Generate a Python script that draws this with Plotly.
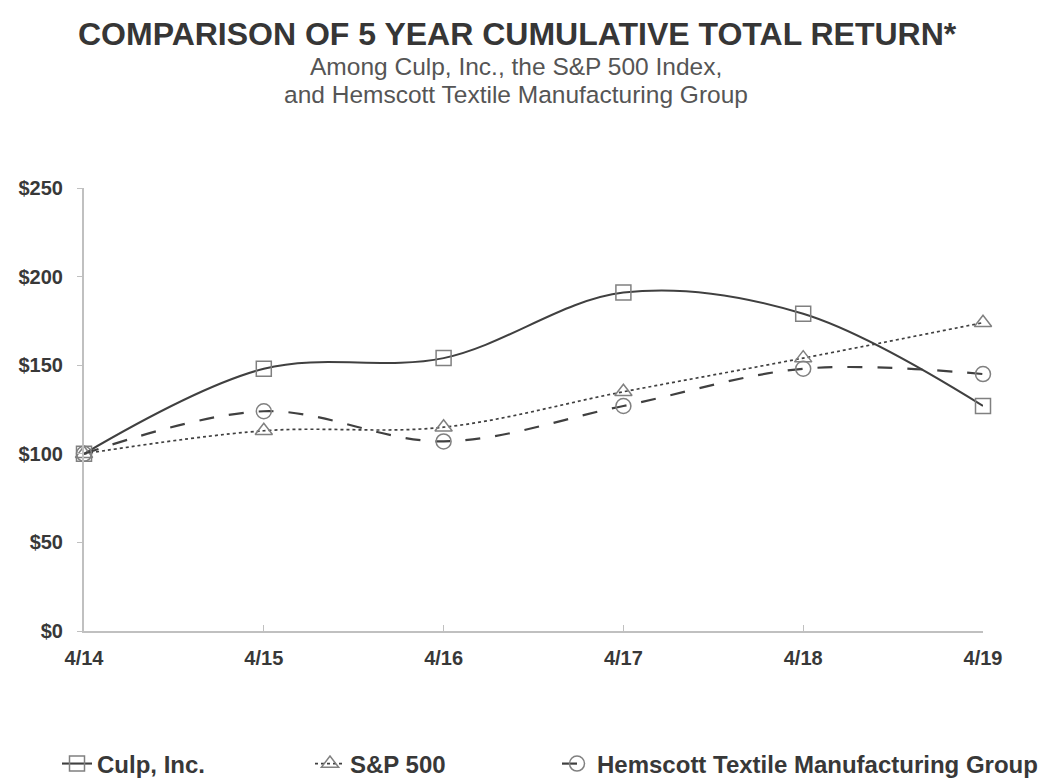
import plotly.graph_objects as go

periods = ["4/14", "4/15", "4/16", "4/17", "4/18", "4/19"]
culp = [100, 148, 154, 191, 179, 127]
sp500 = [100, 113, 115, 135, 154, 174]
hemscott = [100, 124, 107, 127, 148, 145]
yticks = [0, 50, 100, 150, 200, 250]
yticklabels = ["$0", "$50", "$100", "$150", "$200", "$250"]

xpos = list(range(len(periods)))
FONT = "Liberation Sans, Arial, sans-serif"
LINE = "#404040"
MARK = "#808080"
AXIS = "#c0c0c0"

L, R, T, B = 84, 56, 188, 148
PW = 1039 - L - R
PH = 779 - T - B


def px_x(px):
    return (px - L) / PW


def px_y(py):
    return (779 - B - py) / PH


fig = go.Figure()
fig.add_trace(go.Scatter(
    x=xpos, y=culp, name="Culp, Inc.", mode="lines+markers", legend="legend",
    line=dict(color=LINE, width=2, shape="spline", smoothing=1),
    marker=dict(symbol="square-open", size=15, color=MARK, line=dict(width=1.5, color=MARK)),
    cliponaxis=False))
fig.add_trace(go.Scatter(
    x=xpos, y=sp500, name="S&P 500", mode="lines+markers", legend="legend2",
    line=dict(color=LINE, width=1.7, dash="dot", shape="spline", smoothing=1),
    marker=dict(symbol="triangle-up-open", size=15, color=MARK, line=dict(width=1.5, color=MARK)),
    cliponaxis=False))
fig.add_trace(go.Scatter(
    x=xpos, y=hemscott, name="Hemscott Textile Manufacturing Group", mode="lines+markers",
    legend="legend3",
    line=dict(color=LINE, width=2.2, dash="longdash", shape="spline", smoothing=1),
    marker=dict(symbol="circle-open", size=15, color=MARK, line=dict(width=1.5, color=MARK)),
    cliponaxis=False))

legfont = dict(size=24, family=FONT, color="#383838", weight="bold")


def leg(xp):
    return dict(orientation="h", x=px_x(xp), xanchor="left", y=px_y(764), yanchor="middle",
                font=legfont, bgcolor="rgba(0,0,0,0)", itemwidth=30)


subfont = dict(size=24.5, family=FONT, color="#555")

fig.update_layout(
    width=1039, height=779,
    margin=dict(l=L, r=R, t=T, b=B, autoexpand=False),
    paper_bgcolor="white", plot_bgcolor="white",
    font=dict(family=FONT, color="#333"),
    showlegend=True,
    legend=leg(57), legend2=leg(310), legend3=leg(557),
    xaxis=dict(range=[0, 5], tickvals=xpos, ticktext=periods, showline=True,
               linecolor=AXIS, linewidth=2, ticks="inside", ticklen=6, tickcolor=AXIS,
               showgrid=False, zeroline=False, ticklabelstandoff=8, automargin=False,
               tickfont=dict(size=20, family=FONT, color="#383838", weight="bold")),
    yaxis=dict(range=[0, 250], tickvals=yticks, ticktext=yticklabels,
               showline=True, linecolor=AXIS, linewidth=2, ticks="outside", ticklen=5,
               tickcolor=AXIS, showgrid=False, zeroline=False, ticklabelstandoff=10,
               automargin=False,
               tickfont=dict(size=20, family=FONT, color="#383838", weight="bold")),
    annotations=[
        dict(text="<b>COMPARISON OF 5 YEAR CUMULATIVE TOTAL RETURN*</b>", xref="paper", yref="paper",
             x=px_x(517), y=px_y(34), xanchor="center", yanchor="middle",
             showarrow=False, font=dict(size=32, family=FONT, color="#363636")),
        dict(text="Among Culp, Inc., the S&P 500 Index,", xref="paper", yref="paper",
             x=px_x(516), y=px_y(66), xanchor="center", yanchor="middle",
             showarrow=False, font=subfont),
        dict(text="and Hemscott Textile Manufacturing Group", xref="paper", yref="paper",
             x=px_x(516), y=px_y(94), xanchor="center", yanchor="middle",
             showarrow=False, font=subfont),
    ],
)

fig.write_html("out.html")
